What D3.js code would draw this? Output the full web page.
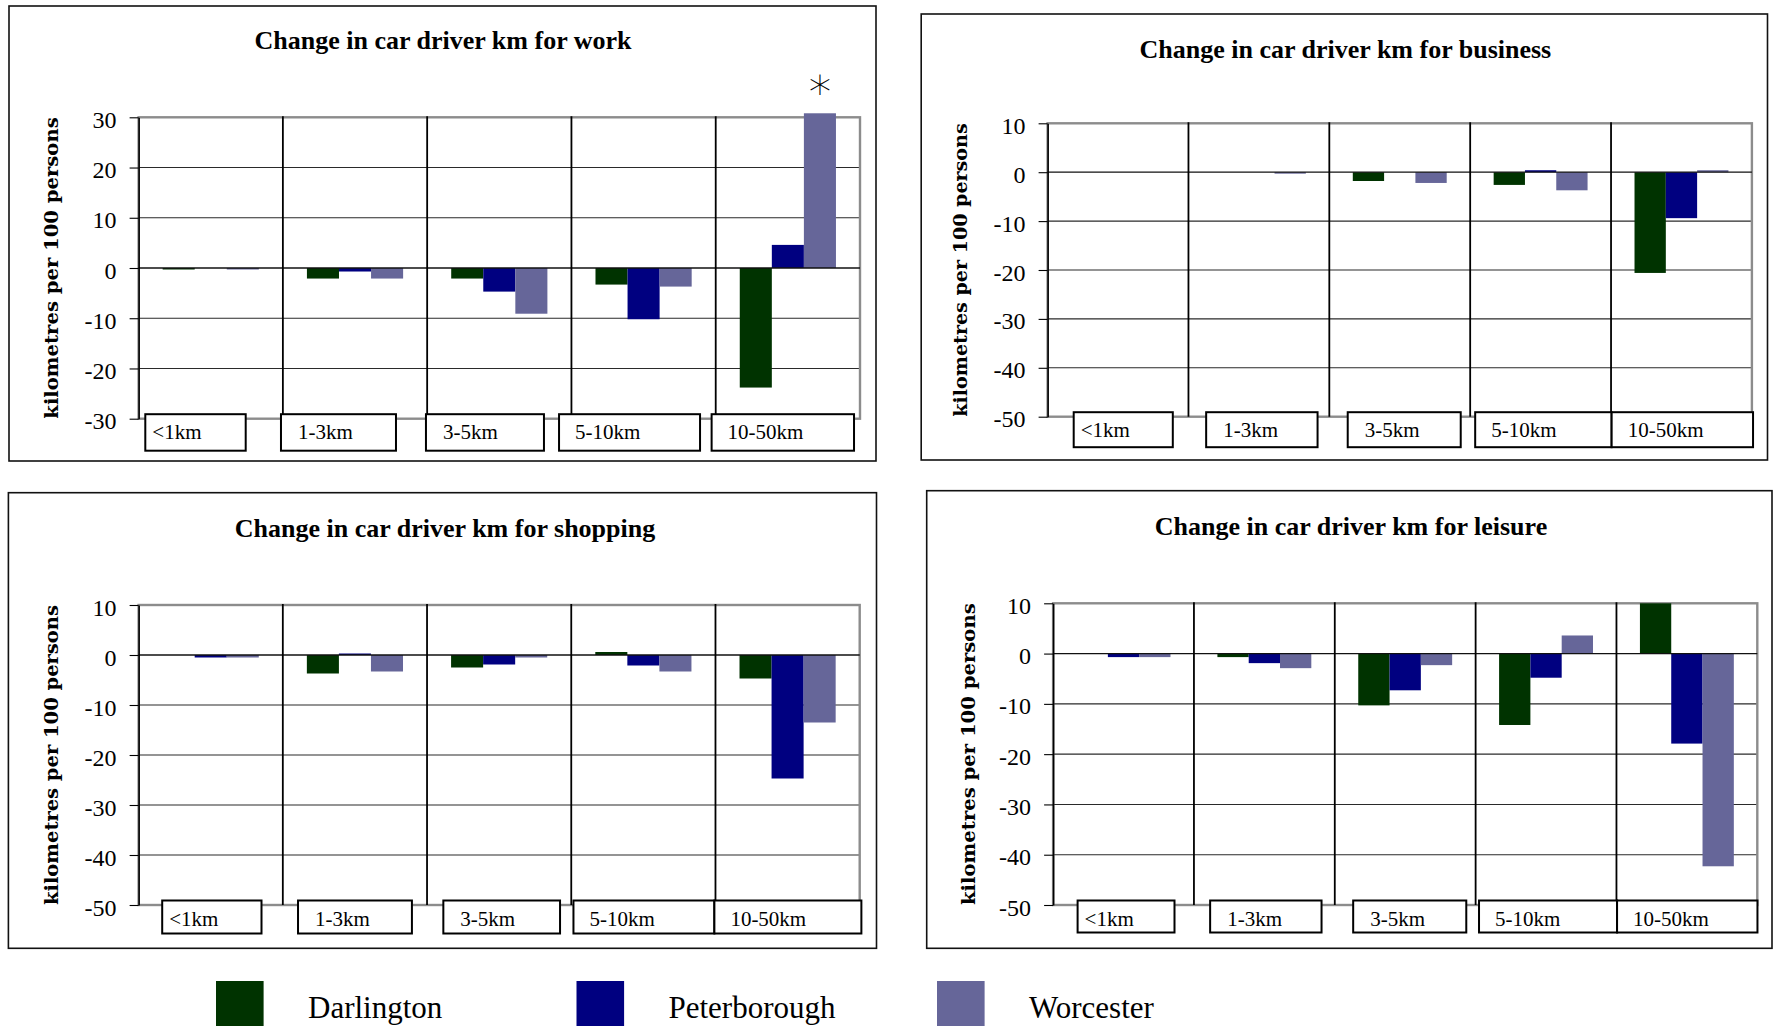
<!DOCTYPE html>
<html>
<head>
<meta charset="utf-8">
<script src="https://cdn.jsdelivr.net/npm/d3@7"></script>
<style>
  html, body { margin: 0; padding: 0; background: #fff; }
  svg { display: block; }
</style>
</head>
<body>
<svg id="chart" width="1773" height="1026"></svg>
<script>
// Distance bands and towns
const categories = ["<1km", "1-3km", "3-5km", "5-10km", "10-50km"];
const cities = ["Darlington", "Peterborough", "Worcester"];
const cityColors = ["#003300", "#000080", "#666699"];

// Change in car driver km per 100 persons, by trip purpose
const workDarlington     = [-0.3, -2.1, -2.1, -3.3, -23.8];
const workPeterborough   = [0, -0.7, -4.7, -10.2, 4.6];
const workWorcester      = [-0.3, -2.1, -9.1, -3.7, 30.8];

const businessDarlington   = [0, 0, -1.8, -2.6, -20.6];
const businessPeterborough = [0, 0, 0, 0.4, -9.4];
const businessWorcester    = [0, -0.3, -2.2, -3.7, 0.4];

const shoppingDarlington   = [0, -3.7, -2.5, 0.6, -4.7];
const shoppingPeterborough = [-0.5, 0.3, -1.9, -2.1, -24.7];
const shoppingWorcester    = [-0.5, -3.3, -0.5, -3.3, -13.5];

const leisureDarlington    = [0, -0.7, -10.3, -14.2, 10];
const leisurePeterborough  = [-0.7, -1.9, -7.3, -4.8, -17.9];
const leisureWorcester     = [-0.7, -2.9, -2.3, 3.6, -42.3];

// Value axis ticks
const workTicks  = [30, 20, 10, 0, -10, -20, -30];
const otherTicks = [10, 0, -10, -20, -30, -40, -50];

const axisTitle = "kilometres per 100 persons";

// Panel layout: frame [x0,y0,x1,y1], plot area [x0,y0,x1,y1], label boxes
const panels = [
  { title: "Change in car driver km for work",
    series: [workDarlington, workPeterborough, workWorcester], ticks: workTicks,
    frame: [9, 6, 876, 461], plot: [138.6, 117.3, 860, 418.7],
    titleX: 443, titleY: 49, axisTitleX: 53,
    boxInsets: [6.7, -1.9, -1.2, -12.4, -4.1], boxWidths: [100.4, 115, 118, 141, 142.4], boxHeight: 36.5,
    marker: { category: 4, series: 2, text: "*" } },
  { title: "Change in car driver km for business",
    series: [businessDarlington, businessPeterborough, businessWorcester], ticks: otherTicks,
    frame: [921.2, 14, 1767.5, 460], plot: [1047.6, 123.3, 1751.9, 416.7],
    titleX: 1345.4, titleY: 58, axisTitleX: 962.4,
    boxInsets: [26.1, 17.7, 18.4, 5, 0.6], boxWidths: [99.1, 111.4, 113, 136.4, 141.4], boxHeight: 35 },
  { title: "Change in car driver km for shopping",
    series: [shoppingDarlington, shoppingPeterborough, shoppingWorcester], ticks: otherTicks,
    frame: [8.4, 492.7, 876.5, 948.3], plot: [138.6, 605, 859.7, 905],
    titleX: 445, titleY: 537, axisTitleX: 53.3,
    boxInsets: [23.6, 15.2, 16.3, 2.2, -1.1], boxWidths: [99.3, 113.9, 116.7, 140.9, 147], boxHeight: 33 },
  { title: "Change in car driver km for leisure",
    series: [leisureDarlington, leisurePeterborough, leisureWorcester], ticks: otherTicks,
    frame: [926.7, 490.7, 1772, 948.3], plot: [1053.1, 603.3, 1757.3, 905],
    titleX: 1351, titleY: 535, axisTitleX: 969.6,
    boxInsets: [24.5, 16.2, 18.4, 3.4, 0.6], boxWidths: [96.9, 111.4, 113.1, 138.1, 140.4], boxHeight: 32 }
];

const labelPadding = [7, 17, 17, 16, 16];
const serif = "'Liberation Serif', 'Times New Roman', serif";

const svg = d3.select("#chart");
svg.append("rect").attr("width", 1773).attr("height", 1026).attr("fill", "#fff");

panels.forEach(p => {
  const g = svg.append("g");
  const [fx0, fy0, fx1, fy1] = p.frame;
  const [px0, py0, px1, py1] = p.plot;

  // outer frame
  g.append("rect")
    .attr("x", fx0).attr("y", fy0)
    .attr("width", fx1 - fx0).attr("height", fy1 - fy0)
    .attr("fill", "#fff").attr("stroke", "#111").attr("stroke-width", 1.6);

  // title
  g.append("text")
    .attr("x", p.titleX).attr("y", p.titleY)
    .attr("text-anchor", "middle")
    .attr("font-family", serif).attr("font-weight", "bold").attr("font-size", 26)
    .text(p.title);

  const ticks = p.ticks;
  const y = d3.scaleLinear()
    .domain([d3.min(ticks), d3.max(ticks)])
    .range([py1, py0]);

  // step = width / n, bars use 3 of every 4.5 bar-widths
  const x0 = d3.scaleBand()
    .domain(categories)
    .range([px0, px1])
    .paddingInner(1 / 3)
    .paddingOuter(1 / 6);
  const x1 = d3.scaleBand()
    .domain(cities)
    .range([0, x0.bandwidth()]);
  const gap = (x0.step() - x0.bandwidth()) / 2;

  // horizontal gridlines
  g.append("g").selectAll("line")
    .data(ticks.filter(t => t !== d3.max(ticks) && t !== d3.min(ticks) && t !== 0))
    .join("line")
      .attr("x1", px0).attr("x2", px1)
      .attr("y1", d => y(d)).attr("y2", d => y(d))
      .attr("stroke", "#2a2a2a").attr("stroke-width", 1.1);

  // plot area border
  g.append("rect")
    .attr("x", px0).attr("y", py0)
    .attr("width", px1 - px0).attr("height", py1 - py0)
    .attr("fill", "none").attr("stroke", "#8c8c8c").attr("stroke-width", 2.4);

  // bars
  p.series.forEach((vals, si) => {
    g.append("g").selectAll("rect")
      .data(vals.map((v, ci) => ({ v, c: categories[ci] })))
      .join("rect")
        .attr("x", d => x0(d.c) + x1(cities[si]))
        .attr("width", x1.bandwidth())
        .attr("y", d => y(Math.max(0, d.v)))
        .attr("height", d => Math.abs(y(d.v) - y(0)))
        .attr("fill", cityColors[si]);
  });

  // zero line
  g.append("line")
    .attr("x1", px0).attr("x2", px1)
    .attr("y1", y(0)).attr("y2", y(0))
    .attr("stroke", "#111").attr("stroke-width", 1.3);

  // category separators
  g.append("g").selectAll("line")
    .data(categories.slice(1))
    .join("line")
      .attr("x1", d => x0(d) - gap).attr("x2", d => x0(d) - gap)
      .attr("y1", py0 - 1).attr("y2", py1)
      .attr("stroke", "#000").attr("stroke-width", 1.8);

  // value axis
  const axis = g.append("g")
    .attr("transform", `translate(${px0},0)`)
    .call(d3.axisLeft(y).tickValues(ticks).tickSize(9).tickSizeOuter(0)
      .tickPadding(13).tickFormat(d => String(d)));
  axis.select(".domain").attr("stroke", "#000").attr("stroke-width", 1.6);
  axis.selectAll(".tick line").attr("stroke", "#000").attr("stroke-width", 1.1);
  axis.selectAll(".tick text")
    .attr("font-family", serif).attr("font-size", 24).attr("fill", "#000")
    .attr("dy", "0.42em");

  // axis title
  const cy = (py0 + py1) / 2;
  g.append("text")
    .attr("transform", `translate(${p.axisTitleX + 5},${cy}) rotate(-90)`)
    .attr("text-anchor", "middle")
    .attr("font-family", "'DejaVu Serif', serif").attr("font-weight", "bold")
    .attr("font-size", 19)
    .attr("textLength", py1 - py0).attr("lengthAdjust", "spacingAndGlyphs")
    .text(axisTitle);

  // category label boxes
  const boxTop = py1 - 4.5;
  const boxes = g.append("g").selectAll("g")
    .data(categories)
    .join("g")
      .attr("transform", (d, i) => `translate(${x0(d) - gap + p.boxInsets[i]},${boxTop})`);
  boxes.append("rect")
    .attr("width", (d, i) => p.boxWidths[i])
    .attr("height", p.boxHeight)
    .attr("fill", "#fff").attr("stroke", "#000").attr("stroke-width", 2);
  boxes.append("text")
    .attr("x", (d, i) => labelPadding[i])
    .attr("y", 25)
    .attr("font-family", serif).attr("font-size", 21)
    .text(d => d);

  // significance marker
  if (p.marker) {
    const m = p.marker;
    const cat = categories[m.category];
    g.append("text")
      .attr("x", x0(cat) + x1(cities[m.series]) + x1.bandwidth() / 2)
      .attr("y", py0 - 9)
      .attr("text-anchor", "middle")
      .attr("font-family", "'DejaVu Sans', sans-serif").attr("font-weight", 300)
      .attr("font-size", 45)
      .text(m.text);
  }
});

// legend
const legend = svg.append("g").attr("transform", "translate(216,981)");
const legendItems = legend.selectAll("g")
  .data(cities)
  .join("g")
    .attr("transform", (d, i) => `translate(${i * 360.5},0)`);
legendItems.append("rect")
  .attr("width", 47.6).attr("height", 50)
  .attr("fill", (d, i) => cityColors[i]);
legendItems.append("text")
  .attr("x", 92).attr("y", 37)
  .attr("font-family", serif).attr("font-size", 31)
  .text(d => d);
</script>
</body>
</html>
